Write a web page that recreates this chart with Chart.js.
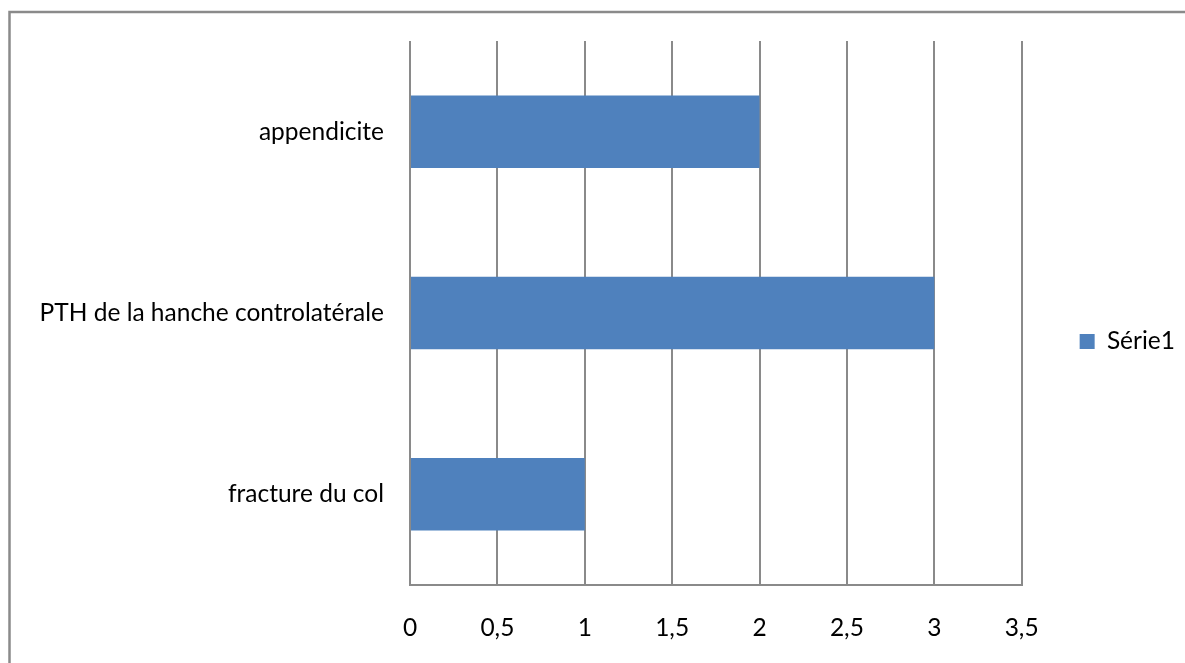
<!DOCTYPE html>
<html>
<head>
<meta charset="utf-8">
<title>Série1</title>
<script src="https://cdn.jsdelivr.net/npm/chart.js@4"></script>
<style>
  html, body { margin: 0; padding: 0; background: #ffffff; overflow: hidden; }
  canvas { display: block; }
</style>
</head>
<body>
<canvas id="chart" width="1185" height="663"></canvas>
<script>
// Categories (top to bottom) and the single series
const categories = ['appendicite', 'PTH de la hanche controlatérale', 'fracture du col'];
const serie1 = [2, 3, 1];
const seriesName = 'Série1';

// Value axis
const xMin = 0;
const xMax = 3.5;
const xStep = 0.5;
const xTickLabels = ['0', '0,5', '1', '1,5', '2', '2,5', '3', '3,5'];

const FONT = { family: 'Lato', size: 24.5 };
const GRID = '#8a8a8a';

// Outer frame of the chart object
const framePlugin = {
  id: 'frame',
  beforeDraw(chart) {
    const ctx = chart.ctx;
    ctx.save();
    ctx.fillStyle = '#ffffff';
    ctx.fillRect(0, 0, chart.width, chart.height);
    ctx.strokeStyle = '#8a8a8a';
    ctx.lineWidth = 2.5;
    ctx.strokeRect(9.5, 12, chart.width + 20, chart.height + 20);
    ctx.restore();
  }
};

new Chart(document.getElementById('chart'), {
  type: 'bar',
  data: {
    labels: categories,
    datasets: [{
      label: seriesName,
      data: serie1,
      backgroundColor: '#4f81bd',
      borderWidth: 0,
      barPercentage: 0.4,
      categoryPercentage: 1.0
    }]
  },
  options: {
    indexAxis: 'y',
    responsive: false,
    animation: false,
    devicePixelRatio: 1,
    layout: { padding: { top: 41, bottom: 21, left: 0, right: 0 } },
    plugins: {
      tooltip: { enabled: false },
      legend: {
        position: 'right',
        labels: {
          font: FONT,
          color: '#000000',
          boxWidth: 15,
          boxHeight: 15,
          padding: 58
        }
      }
    },
    scales: {
      x: {
        min: xMin,
        max: xMax,
        ticks: {
          stepSize: xStep,
          font: FONT,
          color: '#000000',
          padding: 28,
          maxRotation: 0,
          callback: (v, i) => xTickLabels[i]
        },
        grid: { color: GRID, lineWidth: 2, drawTicks: false },
        border: { display: true, color: GRID, width: 2 },
        afterFit(scale) { scale.height = 57; }
      },
      y: {
        ticks: { font: FONT, color: '#000000', padding: 26 },
        grid: { display: false, drawTicks: false },
        border: { display: false },
        afterFit(scale) { scale.width = 410; }
      }
    }
  },
  plugins: [framePlugin]
});
</script>
</body>
</html>
